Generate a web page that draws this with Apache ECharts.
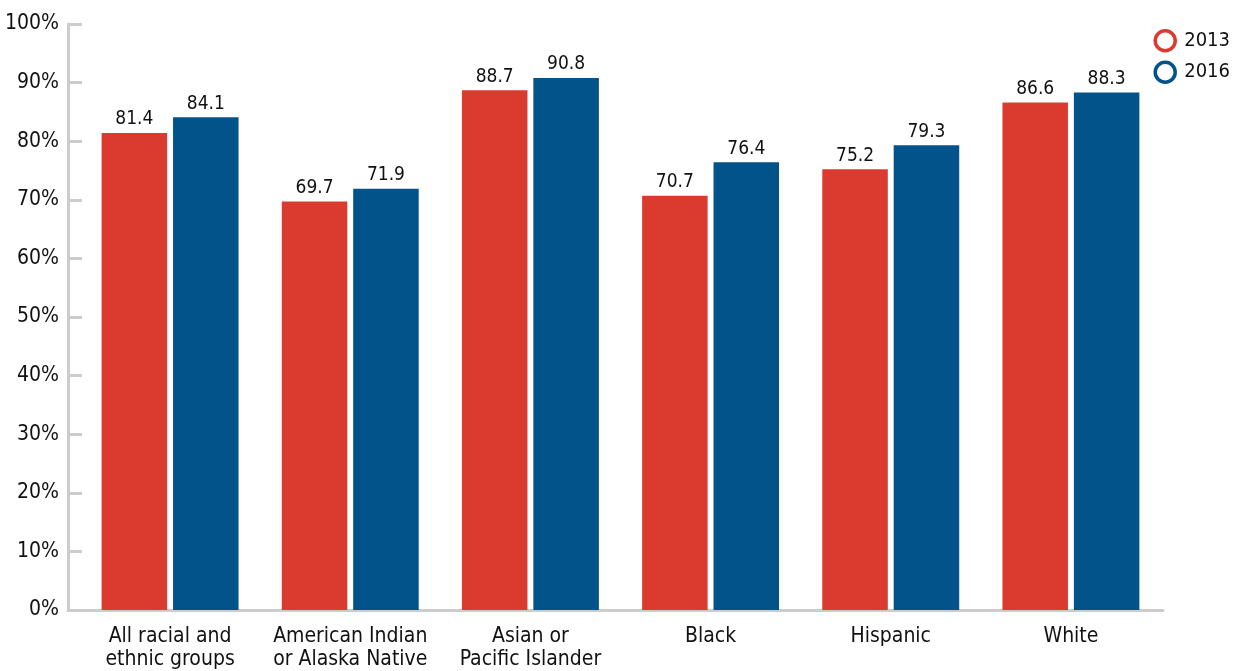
<!DOCTYPE html>
<html><head><meta charset="utf-8">
<script src="https://cdn.jsdelivr.net/npm/echarts@6/dist/echarts.min.js"></script>
<style>html,body{margin:0;padding:0;background:#fff}#c{width:1241px;height:671px}</style>
</head><body><div id="c"></div>
<script>
const categories = ["All racial and\nethnic groups","American Indian\nor Alaska Native","Asian or\nPacific Islander","Black","Hispanic","White"];
const s2013 = [81.4, 69.7, 88.7, 70.7, 75.2, 86.6];
const s2016 = [84.1, 71.9, 90.8, 76.4, 79.3, 88.3];
const seriesNames = ["2013","2016"];
const FONT = "'DejaVu Sans Condensed','Liberation Sans Narrow',sans-serif";
const chart = echarts.init(document.getElementById('c'));
const lbl = {show:true, position:'top', distance:4, color:'#111', fontSize:19, fontFamily:FONT, formatter: p => p.value.toFixed(1)};
chart.setOption({
  animation:false,
  textStyle:{fontFamily:FONT},
  legend:{orient:'vertical', right:6, top:24, itemGap:8, itemWidth:22, itemHeight:20,
    icon:'circle',
    textStyle:{fontSize:20, color:'#111', fontFamily:FONT, padding:[0,0,0,3]},
    data:[{name:'2013', itemStyle:{color:'#fff', borderColor:'#DB3A2F', borderWidth:3.5}},
          {name:'2016', itemStyle:{color:'#fff', borderColor:'#02538A', borderWidth:3.5}}]},
  grid:[{left:80, right:80, top:24, bottom:61},{left:68, right:78, top:24, bottom:61}],
  xAxis:[{type:'category', data:categories, gridIndex:0,
    axisLine:{show:false}, axisTick:{show:false},
    axisLabel:{interval:0, color:'#111', fontSize:21, fontFamily:FONT, lineHeight:23, margin:15}},
    {type:'value', gridIndex:1, min:0, max:1, axisLine:{show:true, lineStyle:{color:'#cccccc', width:3}},
     axisTick:{show:false}, axisLabel:{show:false}, splitLine:{show:false}}],
  yAxis:[{type:'value', min:0, max:100, interval:10, gridIndex:0, offset:12,
    axisLine:{show:true, lineStyle:{color:'#cccccc', width:3}},
    axisTick:{show:true, inside:true, length:14, lineStyle:{color:'#cccccc', width:3}},
    splitLine:{show:false},
    axisLabel:{formatter:'{value}%', color:'#111', fontSize:21, fontFamily:FONT, margin:9}},
    {type:'value', gridIndex:1, min:0, max:1, show:false}],
  series:[
    {name:seriesNames[0], type:'bar', data:s2013, itemStyle:{color:'#DB3A2F'}, barGap:'9%', barCategoryGap:'24%', label:lbl},
    {name:seriesNames[1], type:'bar', data:s2016, itemStyle:{color:'#02538A'}, barGap:'9%', barCategoryGap:'24%', label:lbl}
  ]
});
</script></body></html>
